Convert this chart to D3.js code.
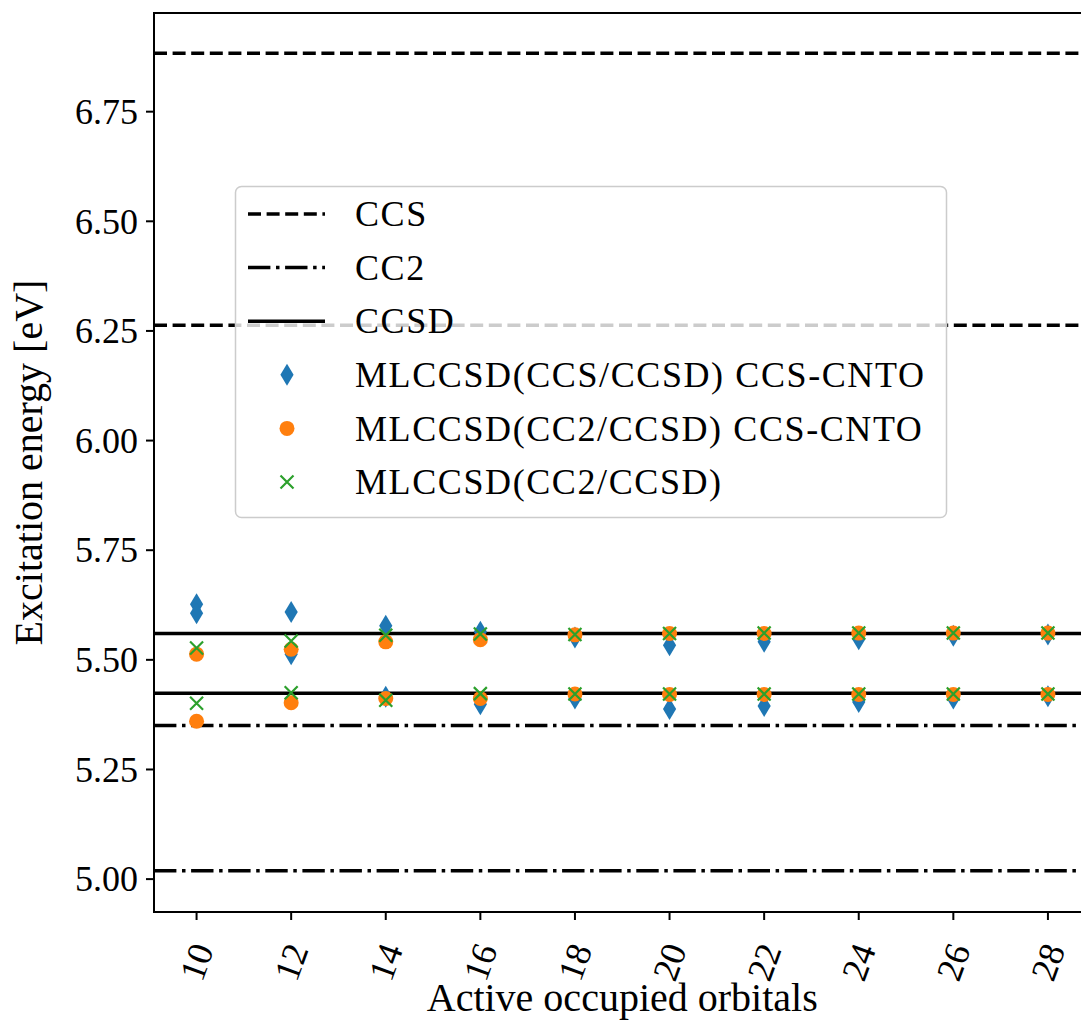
<!DOCTYPE html>
<html lang="en">
	<head>
		<meta charset="utf-8">
		<title>Excitation energies vs active occupied orbitals</title>
		<script type="text/javascript" src="https://cdn.jsdelivr.net/npm/d3@7"></script>
		<style>
			body { margin: 0; background: #fff; }
			text { font-family: "Liberation Serif", "Times New Roman", serif; fill: #000; }
		</style>
	</head>
	<body>
		<script type="text/javascript">
			// active occupied orbitals
			var orbitals = [10, 12, 14, 16, 18, 20, 22, 24, 26, 28];

			// reference energies (two states each)
			var ccs = [6.263, 6.883];
			var cc2 = [5.019, 5.350];
			var ccsd = [5.424, 5.560];

			// MLCCSD(CCS/CCSD) CCS-CNTO
			var ccsCntoA = [5.627, 5.609, 5.578, 5.564, 5.551, 5.533, 5.541, 5.547, 5.555, 5.558];
			var ccsCntoB = [5.606, 5.513, 5.416, 5.399, 5.412, 5.388, 5.395, 5.404, 5.412, 5.417];
			// MLCCSD(CC2/CCSD) CCS-CNTO
			var cc2CntoA = [5.513, 5.524, 5.541, 5.546, 5.557, 5.560, 5.560, 5.561, 5.561, 5.561];
			var cc2CntoB = [5.360, 5.402, 5.412, 5.412, 5.422, 5.421, 5.421, 5.421, 5.421, 5.421];
			// MLCCSD(CC2/CCSD)
			var cc2A = [5.527, 5.543, 5.556, 5.559, 5.558, 5.560, 5.561, 5.561, 5.561, 5.561];
			var cc2B = [5.401, 5.425, 5.408, 5.423, 5.422, 5.422, 5.422, 5.422, 5.422, 5.422];

			var yTicks = [5.00, 5.25, 5.50, 5.75, 6.00, 6.25, 6.50, 6.75];
			var legendLabels = ["CCS", "CC2", "CCSD", "MLCCSD(CCS/CCSD) CCS-CNTO", "MLCCSD(CC2/CCSD) CCS-CNTO", "MLCCSD(CC2/CCSD)"];

			var w = 1081;
			var h = 1023;
			// plot area edges (right spine falls just outside the picture)
			var pL = 154, pR = 1090.5, pT = 13, pB = 912;

			var svg = d3.select("body")
						.append("svg")
						.attr("width", w)
						.attr("height", h);

			var x = d3.scaleLinear().domain([9.1, 28.9]).range([pL, pR]);
			var y = d3.scaleLinear().domain([4.925, 6.975]).range([pB, pT]);

			// horizontal reference lines
			function hlines(values, dash) {
				svg.append("g")
				   .selectAll("line")
				   .data(values)
				   .enter()
				   .append("line")
				   .attr("x1", pL)
				   .attr("x2", pR)
				   .attr("y1", function(d) { return y(d); })
				   .attr("y2", function(d) { return y(d); })
				   .attr("stroke", "black")
				   .attr("stroke-width", 3.5)
				   .attr("stroke-dasharray", dash);
			}
			hlines(ccs, "13,5.6");
			hlines(cc2, "22.4,5.6,3.5,5.6");
			hlines(ccsd, null);

			// markers
			var diamond = "M0,-11 L6.6,0 L0,11 L-6.6,0 Z";
			var cross = "M-6.5,-6.5 L6.5,6.5 M-6.5,6.5 L6.5,-6.5";

			function points(vals, kind) {
				var sel = svg.append("g")
				   .selectAll("path")
				   .data(vals)
				   .enter();
				if (kind == "d") {
					sel.append("path")
					   .attr("d", diamond)
					   .attr("transform", function(d, i) { return "translate(" + x(orbitals[i]) + "," + y(d) + ")"; })
					   .attr("fill", "#1f77b4");
				} else if (kind == "o") {
					sel.append("circle")
					   .attr("cx", function(d, i) { return x(orbitals[i]); })
					   .attr("cy", function(d) { return y(d); })
					   .attr("r", 7.5)
					   .attr("fill", "#ff7f0e");
				} else {
					sel.append("path")
					   .attr("d", cross)
					   .attr("transform", function(d, i) { return "translate(" + x(orbitals[i]) + "," + y(d) + ")"; })
					   .attr("stroke", "#2ca02c")
					   .attr("stroke-width", 2.2)
					   .attr("fill", "none");
				}
			}
			points(ccsCntoA, "d");
			points(ccsCntoB, "d");
			points(cc2CntoA, "o");
			points(cc2CntoB, "o");
			points(cc2A, "x");
			points(cc2B, "x");

			// frame
			svg.append("rect")
			   .attr("x", pL)
			   .attr("y", pT)
			   .attr("width", pR - pL)
			   .attr("height", pB - pT)
			   .attr("fill", "none")
			   .attr("stroke", "black")
			   .attr("stroke-width", 2);

			// y axis
			svg.append("g")
			   .selectAll("line")
			   .data(yTicks)
			   .enter()
			   .append("line")
			   .attr("x1", pL - 8)
			   .attr("x2", pL)
			   .attr("y1", function(d) { return y(d); })
			   .attr("y2", function(d) { return y(d); })
			   .attr("stroke", "black")
			   .attr("stroke-width", 2);

			svg.append("g")
			   .selectAll("text")
			   .data(yTicks)
			   .enter()
			   .append("text")
			   .text(function(d) { return d.toFixed(2); })
			   .attr("x", 138)
			   .attr("y", function(d) { return y(d); })
			   .attr("dy", "0.34em")
			   .attr("text-anchor", "end")
			   .attr("font-size", "36px");

			// x axis
			svg.append("g")
			   .selectAll("line")
			   .data(orbitals)
			   .enter()
			   .append("line")
			   .attr("x1", function(d) { return x(d); })
			   .attr("x2", function(d) { return x(d); })
			   .attr("y1", pB)
			   .attr("y2", pB + 8)
			   .attr("stroke", "black")
			   .attr("stroke-width", 2);

			svg.append("g")
			   .selectAll("text")
			   .data(orbitals)
			   .enter()
			   .append("text")
			   .text(function(d) { return d; })
			   .attr("transform", function(d) { return "translate(" + x(d) + ",962) rotate(-70)"; })
			   .attr("text-anchor", "middle")
			   .attr("dy", "0.34em")
			   .attr("font-size", "36px");

			svg.append("text")
			   .text("Active occupied orbitals")
			   .attr("x", (pL + pR) / 2)
			   .attr("y", 1011)
			   .attr("text-anchor", "middle")
			   .attr("font-size", "40px");

			svg.append("text")
			   .text("Excitation energy [eV]")
			   .attr("transform", "translate(42," + (pT + pB) / 2 + ") rotate(-90)")
			   .attr("text-anchor", "middle")
			   .attr("font-size", "40px");

			// legend
			var lg = svg.append("g");
			lg.append("rect")
			  .attr("x", 235.5)
			  .attr("y", 186.5)
			  .attr("width", 711)
			  .attr("height", 331)
			  .attr("rx", 6)
			  .attr("fill", "white")
			  .attr("fill-opacity", 0.8)
			  .attr("stroke", "#cccccc")
			  .attr("stroke-width", 1.5);

			var rowY = function(i) { return 214 + i * 53.6; };
			var dashes = ["13,5.6", "22.4,5.6,3.5,5.6", null];
			dashes.forEach(function(dsh, i) {
				lg.append("line")
				  .attr("x1", 248)
				  .attr("x2", 325)
				  .attr("y1", rowY(i))
				  .attr("y2", rowY(i))
				  .attr("stroke", "black")
				  .attr("stroke-width", 3.5)
				  .attr("stroke-dasharray", dsh);
			});
			lg.append("path")
			  .attr("d", diamond)
			  .attr("transform", "translate(287," + rowY(3) + ")")
			  .attr("fill", "#1f77b4");
			lg.append("circle")
			  .attr("cx", 287)
			  .attr("cy", rowY(4))
			  .attr("r", 7.5)
			  .attr("fill", "#ff7f0e");
			lg.append("path")
			  .attr("d", cross)
			  .attr("transform", "translate(287," + rowY(5) + ")")
			  .attr("stroke", "#2ca02c")
			  .attr("stroke-width", 2.2)
			  .attr("fill", "none");

			lg.selectAll("text")
			  .data(legendLabels)
			  .enter()
			  .append("text")
			  .text(function(d) { return d; })
			  .attr("x", 355)
			  .attr("y", function(d, i) { return rowY(i); })
			  .attr("dy", "0.34em")
			  .attr("font-size", "36px")
			  .attr("letter-spacing", "1.6px");
		</script>
	</body>
</html>
